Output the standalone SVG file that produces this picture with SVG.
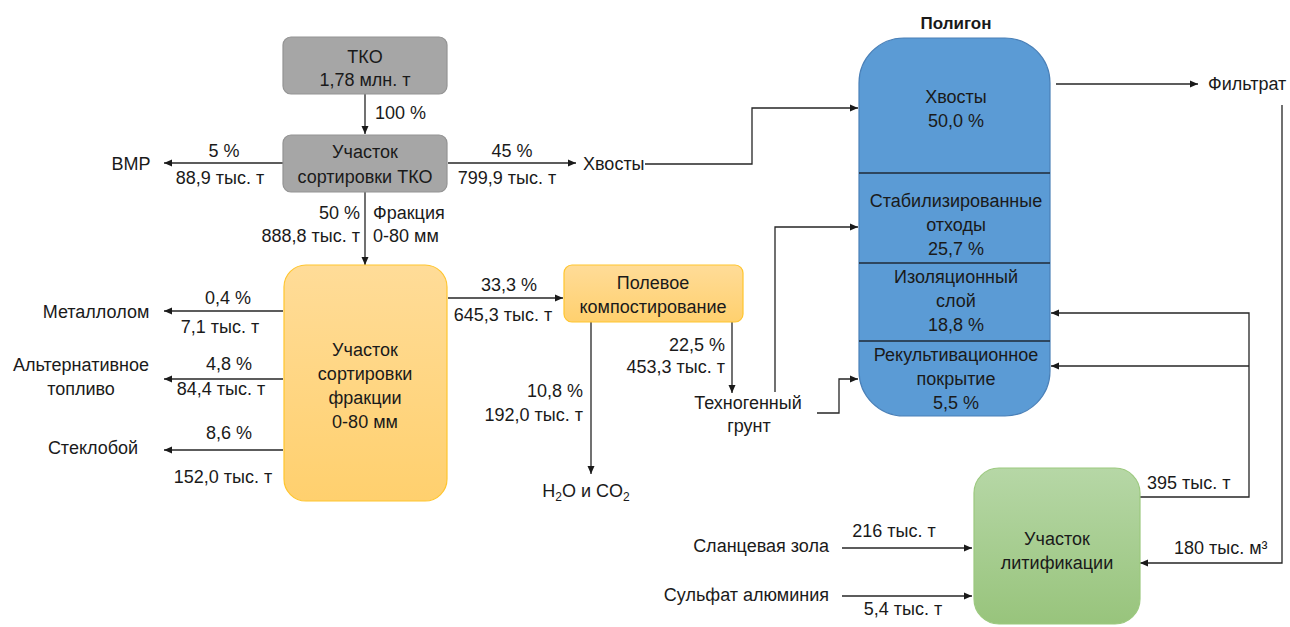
<svg xmlns="http://www.w3.org/2000/svg" width="1290" height="627" viewBox="0 0 1290 627">
<style>
text{font-family:"Liberation Sans",Arial,sans-serif;font-size:18px;fill:#1a1a1a}
.c{text-anchor:middle}
.e{text-anchor:end}
.b{font-weight:bold;font-size:17px}
.ln{fill:none;stroke:#262626;stroke-width:1.3}
.gray{fill:#a6a6a6;stroke:#939393;stroke-width:1.2}
.org{fill:url(#og);stroke:#ffc52e;stroke-width:1.2}
.blue{fill:#5b9bd5;stroke:#4a80b8;stroke-width:1.2}
.grn{fill:url(#gg);stroke:#9cc97f;stroke-width:1.2}
.div{stroke:#1f2a36;stroke-width:1.3}
</style>
<defs>
<linearGradient id="og" x1="0" y1="0" x2="0" y2="1"><stop offset="0" stop-color="#ffdc98"/><stop offset="1" stop-color="#ffd06e"/></linearGradient>
<linearGradient id="gg" x1="0" y1="0" x2="0" y2="1"><stop offset="0" stop-color="#b6d7a6"/><stop offset="1" stop-color="#98c47c"/></linearGradient>
<marker id="ar" markerUnits="userSpaceOnUse" markerWidth="9" markerHeight="8" refX="8" refY="4" orient="auto"><path d="M0,0.5 L8,4 L0,7.5 z" fill="#1a1a1a"/></marker>
</defs>
<rect width="1290" height="627" fill="#ffffff"/>

<g id="connectors">
<line class="ln" x1="365" y1="94" x2="365" y2="134" marker-end="url(#ar)"/>
<line class="ln" x1="283" y1="163" x2="164" y2="163" marker-end="url(#ar)"/>
<line class="ln" x1="448" y1="163" x2="576" y2="163" marker-end="url(#ar)"/>
<polyline class="ln" points="645,164 752,164 752,108 858,108" marker-end="url(#ar)"/>
<line class="ln" x1="365" y1="192" x2="365" y2="265" marker-end="url(#ar)"/>
<line class="ln" x1="283" y1="311" x2="164" y2="311" marker-end="url(#ar)"/>
<line class="ln" x1="283" y1="379" x2="164" y2="379" marker-end="url(#ar)"/>
<line class="ln" x1="283" y1="450" x2="164" y2="450" marker-end="url(#ar)"/>
<line class="ln" x1="448" y1="298" x2="563" y2="298" marker-end="url(#ar)"/>
<line class="ln" x1="591" y1="322" x2="591" y2="474" marker-end="url(#ar)"/>
<line class="ln" x1="732" y1="322" x2="732" y2="393" marker-end="url(#ar)"/>
<polyline class="ln" points="775,392 775,227 858,227" marker-end="url(#ar)"/>
<polyline class="ln" points="817,413 839,413 839,379 858,379" marker-end="url(#ar)"/>
<line class="ln" x1="1056" y1="84" x2="1198" y2="84" marker-end="url(#ar)"/>
<polyline class="ln" points="1282,105 1282,563 1140,563" marker-end="url(#ar)"/>
<polyline class="ln" points="1140,497 1249,497 1249,313 1051,313" marker-end="url(#ar)"/>
<line class="ln" x1="1249" y1="366" x2="1051" y2="366" marker-end="url(#ar)"/>
<line class="ln" x1="842" y1="548" x2="972" y2="548" marker-end="url(#ar)"/>
<line class="ln" x1="842" y1="596" x2="972" y2="596" marker-end="url(#ar)"/>
</g>

<g id="labels">
<text x="375" y="119">100 %</text>
<text class="c" x="224" y="157">5 %</text>
<text class="c" x="220" y="184">88,9 тыс. т</text>
<text class="c" x="512" y="157">45 %</text>
<text class="c" x="507" y="184">799,9 тыс. т</text>
<text class="e" x="360" y="219">50 %</text>
<text class="e" x="360" y="242">888,8 тыс. т</text>
<text x="373" y="219">Фракция</text>
<text x="373" y="242">0-80 мм</text>
<text class="c" x="228" y="304">0,4 %</text>
<text class="c" x="220" y="333">7,1 тыс. т</text>
<text class="c" x="229" y="370">4,8 %</text>
<text class="c" x="221" y="395">84,4 тыс. т</text>
<text class="c" x="229" y="439">8,6 %</text>
<text class="c" x="223" y="483">152,0 тыс. т</text>
<text class="c" x="509" y="291">33,3 %</text>
<text class="c" x="503" y="321">645,3 тыс. т</text>
<text class="e" x="583" y="397">10,8 %</text>
<text class="e" x="583" y="421">192,0 тыс. т</text>
<text class="e" x="725" y="351">22,5 %</text>
<text class="e" x="725" y="373">453,3 тыс. т</text>
<text class="c" x="894" y="537">216 тыс. т</text>
<text class="c" x="903" y="615">5,4 тыс. т</text>
<text x="1147" y="489">395 тыс. т</text>
<text x="1174" y="554">180 тыс. м³</text>
</g>

<g id="tko">
<rect class="gray" x="283" y="37" width="164" height="57" rx="8"/>
<text class="c" x="365" y="63">ТКО</text>
<text class="c" x="365" y="86">1,78 млн. т</text>
</g>
<g id="sort-tko">
<rect class="gray" x="283" y="135" width="164" height="57" rx="8"/>
<text class="c" x="365" y="158">Участок</text>
<text class="c" x="365" y="183">сортировки ТКО</text>
</g>
<g id="vmr"><text class="c" x="131" y="170">ВМР</text></g>
<g id="tails"><text x="583" y="170">Хвосты</text></g>
<g id="sort-frac">
<rect class="org" x="284" y="265" width="163" height="236" rx="22"/>
<text class="c" x="365" y="356">Участок</text>
<text class="c" x="365" y="380">сортировки</text>
<text class="c" x="365" y="404">фракции</text>
<text class="c" x="365" y="428">0-80 мм</text>
</g>
<g id="metal"><text class="c" x="96" y="318">Металлолом</text></g>
<g id="fuel">
<text class="c" x="81" y="371">Альтернативное</text>
<text class="c" x="81" y="395">топливо</text>
</g>
<g id="glass"><text class="c" x="93" y="454">Стеклобой</text></g>
<g id="compost">
<rect class="org" x="564" y="265" width="179" height="57" rx="8"/>
<text class="c" x="653" y="289">Полевое</text>
<text class="c" x="653" y="313">компостирование</text>
</g>
<g id="h2o">
<text class="c" x="586" y="497">H<tspan font-size="12" dy="4">2</tspan><tspan dy="-4">O и CO</tspan><tspan font-size="12" dy="4">2</tspan></text>
</g>
<g id="soil">
<text class="c" x="748" y="409">Техногенный</text>
<text class="c" x="749" y="432">грунт</text>
</g>
<g id="polygon">
<text class="c b" x="956" y="29">Полигон</text>
<rect class="blue" x="859" y="38" width="191" height="378" rx="45"/>
<line class="div" x1="859" y1="173" x2="1050" y2="173"/>
<line class="div" x1="859" y1="263" x2="1050" y2="263"/>
<line class="div" x1="859" y1="341" x2="1050" y2="341"/>
<text class="c" x="956" y="103">Хвосты</text>
<text class="c" x="956" y="127">50,0 %</text>
<text class="c" x="956" y="207">Стабилизированные</text>
<text class="c" x="956" y="231">отходы</text>
<text class="c" x="956" y="255">25,7 %</text>
<text class="c" x="956" y="283">Изоляционный</text>
<text class="c" x="956" y="307">слой</text>
<text class="c" x="956" y="331">18,8 %</text>
<text class="c" x="956" y="361">Рекультивационное</text>
<text class="c" x="956" y="385">покрытие</text>
<text class="c" x="956" y="409">5,5 %</text>
</g>
<g id="filtrate"><text x="1208" y="90">Фильтрат</text></g>
<g id="litification">
<rect class="grn" x="974" y="468" width="166" height="156" rx="25"/>
<text class="c" x="1057" y="545">Участок</text>
<text class="c" x="1057" y="569">литификации</text>
</g>
<g id="ash"><text class="e" x="829" y="552">Сланцевая зола</text></g>
<g id="sulfate"><text class="e" x="829" y="601">Сульфат алюминия</text></g>
</svg>
